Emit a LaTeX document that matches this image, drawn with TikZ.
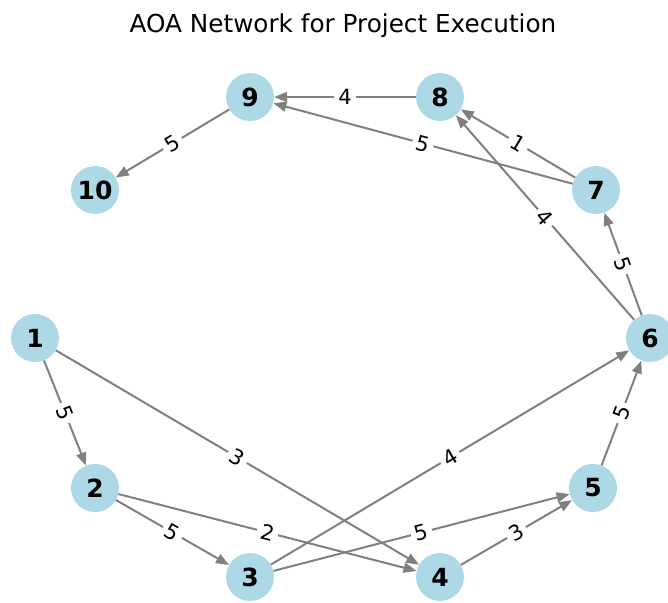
\documentclass[tikz,border=0pt]{standalone}
\usepackage{fontspec}
\setmainfont{DejaVu Sans}
\usetikzlibrary{arrows.meta}

\definecolor{nodeblue}{HTML}{ADD8E6}
\definecolor{edgegray}{HTML}{808080}

\tikzset{
  event/.style={circle, fill=nodeblue, minimum size=48pt, inner sep=0pt,
    font=\fontsize{25}{25}\selectfont\bfseries},
  act/.style={draw=edgegray, line width=2pt, -{Triangle[length=13pt, width=10pt]}},
  dur/.style={fill=white, inner sep=4pt, sloped, midway,
    font=\fontsize{21}{21}\selectfont}
}

\begin{document}
\begin{tikzpicture}[x=1pt, y=-1pt]
  \useasboundingbox (0, 0) rectangle (668, 602);

  \node[font=\fontsize{24.7}{25}\selectfont] (title) at (343, 26) {AOA Network for Project Execution};

  % Events
  \node[event] (e1) at (35, 338) {1};
  \node[event] (e2) at (95, 488) {2};
  \node[event] (e3) at (250, 577) {3};
  \node[event] (e4) at (440, 577) {4};
  \node[event] (e5) at (593, 488) {5};
  \node[event] (e6) at (650, 338) {6};
  \node[event] (e7) at (596, 190) {7};
  \node[event] (e8) at (440, 97) {8};
  \node[event] (e9) at (250, 97) {9};
  \node[event] (e10) at (95, 190) {10};

  % Activities with durations
  \draw[act] (e1) -- node[dur] {5} (e2);
  \draw[act] (e1) -- node[dur] {3} (e4);
  \draw[act] (e2) -- node[dur] {5} (e3);
  \draw[act] (e2) -- node[dur] {2} (e4);
  \draw[act] (e3) -- node[dur] {5} (e5);
  \draw[act] (e3) -- node[dur] {4} (e6);
  \draw[act] (e4) -- node[dur] {3} (e5);
  \draw[act] (e5) -- node[dur] {5} (e6);
  \draw[act] (e6) -- node[dur] {5} (e7);
  \draw[act] (e6) -- node[dur] {4} (e8);
  \draw[act] (e7) -- node[dur] {1} (e8);
  \draw[act] (e7) -- node[dur] {5} (e9);
  \draw[act] (e8) -- node[dur] {4} (e9);
  \draw[act] (e9) -- node[dur] {5} (e10);
\end{tikzpicture}
\end{document}
